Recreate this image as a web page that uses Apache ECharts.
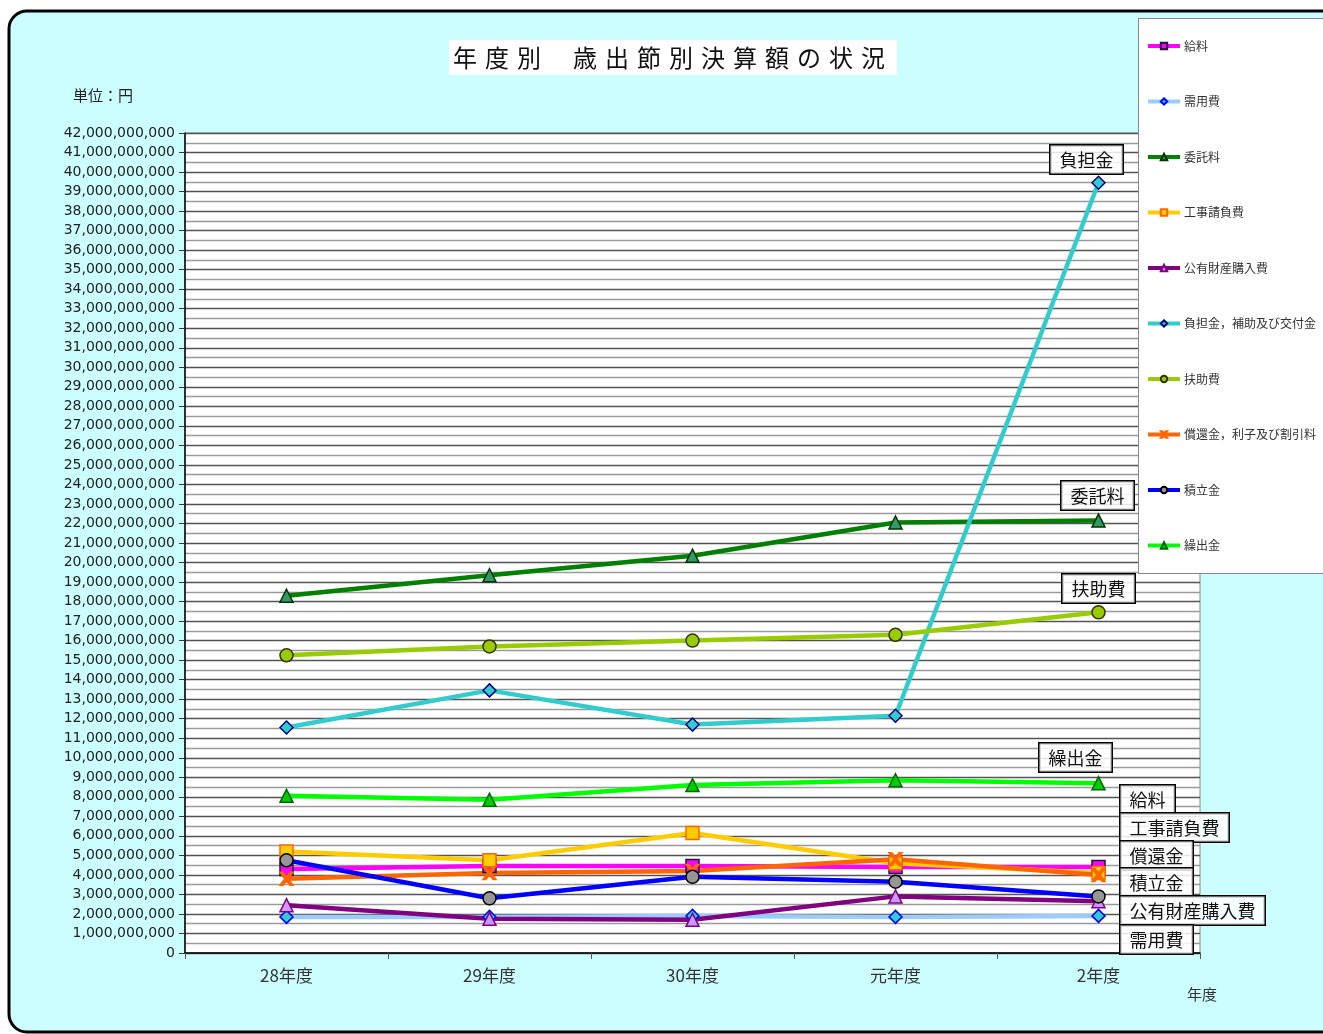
<!DOCTYPE html>
<html lang="ja">
<head>
<meta charset="utf-8">
<title>年度別 歳出節別決算額の状況</title>
<script src="https://cdn.jsdelivr.net/npm/echarts@6/dist/echarts.min.js"></script>
<style>
  html, body { margin: 0; padding: 0; background: #ffffff; }
  #chart { width: 1323px; height: 1034px; }
</style>
</head>
<body>
<div id="chart"></div>
<script>
// 会計年度
const years = ['28年度', '29年度', '30年度', '元年度', '2年度'];

// 節別決算額（単位：円）
const kyuryo        = [4300000000, 4450000000, 4450000000, 4400000000, 4400000000];    // 給料
const juyohi        = [1850000000, 1850000000, 1900000000, 1850000000, 1900000000];    // 需用費
const itakuryo      = [18300000000, 19350000000, 20350000000, 22050000000, 22150000000]; // 委託料
const kojiukeoi     = [5200000000, 4750000000, 6150000000, 4600000000, 4100000000];    // 工事請負費
const koyuzaisan    = [2450000000, 1750000000, 1700000000, 2900000000, 2650000000];    // 公有財産購入費
const futankin      = [11550000000, 13450000000, 11700000000, 12150000000, 39450000000]; // 負担金，補助及び交付金
const fujohi        = [15250000000, 15700000000, 16000000000, 16300000000, 17450000000]; // 扶助費
const shokankin     = [3800000000, 4100000000, 4200000000, 4800000000, 4000000000];    // 償還金，利子及び割引料
const tsumitatekin  = [4750000000, 2800000000, 3900000000, 3650000000, 2900000000];    // 積立金
const kuridashikin  = [8050000000, 7850000000, 8600000000, 8850000000, 8700000000];    // 繰出金

// 縦軸の範囲と目盛
const yMin = 0;
const yMax = 42000000000;
const yStep = 1000000000;

const crossPath = 'path://M0,0L2.2,0L5,3.3L7.8,0L10,0L6.3,5L10,10L7.8,10L5,6.7L2.2,10L0,10L3.7,5Z';

function lineSeries(name, data, color, symbol, fill, border) {
  return {
    name: name,
    type: 'line',
    data: data,
    symbol: symbol,
    symbolSize: 13,
    lineStyle: { color: color, width: 4.5 },
    itemStyle: { color: fill, borderColor: border, borderWidth: 1.5 },
    emphasis: { disabled: true },
    animation: false
  };
}

const series = [
  lineSeries('給料', kyuryo, '#ff00ff', 'rect', '#ff00ff', '#1a1a33'),
  lineSeries('需用費', juyohi, '#99ccff', 'diamond', '#33cccc', '#0000ff'),
  lineSeries('委託料', itakuryo, '#008000', 'triangle', '#339966', '#003300'),
  lineSeries('工事請負費', kojiukeoi, '#ffcc00', 'rect', '#ffcc00', '#ff6600'),
  lineSeries('公有財産購入費', koyuzaisan, '#800080', 'triangle', '#cc99ff', '#800080'),
  lineSeries('負担金，補助及び交付金', futankin, '#33cccc', 'diamond', '#33cccc', '#000080'),
  lineSeries('扶助費', fujohi, '#99cc00', 'circle', '#99cc00', '#333300'),
  lineSeries('償還金，利子及び割引料', shokankin, '#ff6600', crossPath, '#ff6600', '#ff6600'),
  lineSeries('積立金', tsumitatekin, '#0000ff', 'circle', '#969696', '#000000'),
  lineSeries('繰出金', kuridashikin, '#00ff00', 'triangle', '#00cc00', '#006600')
];

// 系列名の吹き出し
const callouts = [
  { text: '負担金', left: 1049, top: 144 },
  { text: '委託料', left: 1060, top: 480 },
  { text: '扶助費', left: 1061, top: 573 },
  { text: '繰出金', left: 1038, top: 742 },
  { text: '給料', left: 1119, top: 784 },
  { text: '工事請負費', left: 1119, top: 812 },
  { text: '償還金', left: 1119, top: 840 },
  { text: '積立金', left: 1119, top: 867 },
  { text: '公有財産購入費', left: 1119, top: 895 },
  { text: '需用費', left: 1119, top: 924 }
];

const JP = '"Noto Sans CJK JP", "Noto Sans", sans-serif';

const chart = echarts.init(document.getElementById('chart'), null, { renderer: 'canvas' });

chart.setOption({
  animation: false,
  backgroundColor: '#ffffff',
  textStyle: { fontFamily: JP },
  title: {
    text: '年\u2004度\u2004別\u2004\u3000歳\u2004出\u2004節\u2004別\u2004決\u2004算\u2004額\u2004の\u2004状\u2004況',
    left: 449,
    top: 40,
    padding: [6, 12, 5, 4],
    backgroundColor: '#ffffff',
    textStyle: { fontFamily: JP, fontSize: 24, fontWeight: 'normal', color: '#111111' }
  },
  legend: {
    orient: 'vertical',
    left: 1141,
    top: 35,
    itemWidth: 32,
    itemHeight: 8,
    itemGap: 43.5,
    z: 6,
    lineStyle: { width: 4 },
    textStyle: { fontFamily: JP, fontSize: 12, color: '#333333', padding: [0, 0, 0, -1] },
    data: series.map(s => s.name)
  },
  grid: {
    left: 185,
    top: 133,
    right: 123,
    bottom: 81,
    show: true,
    backgroundColor: '#ffffff',
    borderColor: '#888888',
    borderWidth: 1
  },
  xAxis: {
    type: 'category',
    data: years,
    boundaryGap: true,
    axisLine: { lineStyle: { color: '#000000', width: 1.5 } },
    axisTick: { show: true, length: 6, inside: false, lineStyle: { color: '#555555' } },
    axisLabel: { fontFamily: JP, fontSize: 17, color: '#333333', margin: 14 },
    splitLine: { show: false }
  },
  yAxis: {
    type: 'value',
    min: yMin,
    max: yMax,
    interval: yStep,
    axisLine: { show: true, lineStyle: { color: '#000000', width: 1.5 } },
    axisTick: { show: true, length: 6, lineStyle: { color: '#333333' } },
    axisLabel: {
      fontFamily: '"DejaVu Sans", sans-serif',
      fontSize: 14,
      color: '#222222',
      margin: 10,
      formatter: v => v.toLocaleString('en-US')
    },
    splitLine: { show: true, lineStyle: { color: '#555555', width: 1.4 } },
    minorTick: { show: false, splitNumber: 2 },
    minorSplitLine: { show: true, lineStyle: { color: '#9a9a9a', width: 1.4 } }
  },
  graphic: [
    {
      type: 'rect',
      z: -100,
      silent: true,
      shape: { x: 9, y: 11, width: 1400, height: 1021, r: 18 },
      style: { fill: '#ccffff', stroke: '#000000', lineWidth: 3 }
    },
    {
      type: 'rect',
      z: 5,
      silent: true,
      shape: { x: 1138.5, y: 18.5, width: 200, height: 555 },
      style: { fill: '#ffffff', stroke: '#888888', lineWidth: 1 }
    },
    {
      type: 'text',
      z: 5,
      left: 73,
      top: 88,
      silent: true,
      style: { text: '単位：円', font: '15px ' + JP, fill: '#222222' }
    },
    {
      type: 'text',
      z: 5,
      left: 1187,
      top: 987,
      silent: true,
      style: { text: '年度', font: '15px ' + JP, fill: '#333333' }
    }
  ].concat(callouts.map(c => ({
    type: 'text',
    z: 7,
    left: c.left,
    top: c.top,
    silent: true,
    style: {
      text: c.text,
      font: '18px ' + JP,
      fill: '#111111',
      lineHeight: 21,
      padding: [4, 9, 3, 9],
      backgroundColor: 'rgba(255,255,255,0.85)',
      borderColor: '#000000',
      borderWidth: 1.5
    }
  }))),
  series: series
});
</script>
</body>
</html>
